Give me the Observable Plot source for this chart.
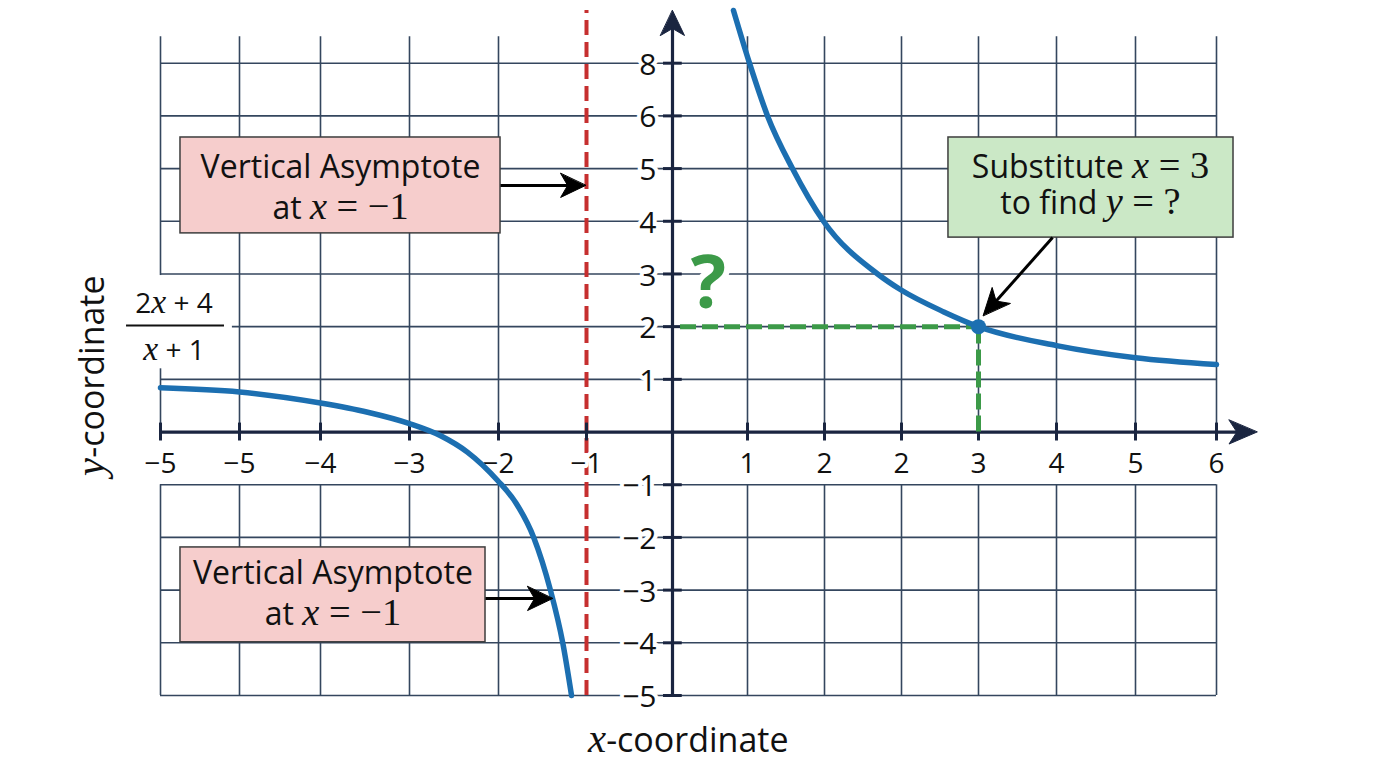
<!DOCTYPE html>
<html>
<head>
<meta charset="utf-8">
<script src="https://cdn.jsdelivr.net/npm/d3@7"></script>
<script src="https://cdn.jsdelivr.net/npm/@observablehq/plot@0.6"></script>
<style>
  body { margin: 0; background: #fff; }
</style>
</head>
<body>
<div id="chart"></div>
<script>
// grid columns (in grid units) and where the drawing puts them: spacing is uneven, so x is piecewise
const xGrid = [-6, -5, -4, -3, -2, -1, 0, 1, 2, 3, 4, 5, 6, 7];
const xPix = [160, 239, 320, 409, 498, 586, 672, 747, 824, 901, 978, 1056, 1135, 1216];
const xTickLabels = ["−5", "−5", "−4", "−3", "−2", "−1", "", "1", "2", "2", "3", "4", "5", "6"];

const yGrid = [-5, -4, -3, -2, -1, 0, 1, 2, 3, 4, 5, 6, 7];
const yTickPos = [7, 6, 5, 4, 3, 2, 1, -1, -2, -3, -4, -5];
const yTickLabels = ["8", "6", "5", "4", "3", "2", "1", "−1", "−2", "−3", "−4", "−5"];

// curve branches (grid units)
const rightX = [0.813, 1.026, 1.26, 1.584, 1.987, 2.69, 2.99, 3.55, 4, 5, 6, 7];
const rightY = [8.0, 7.0, 6.0, 5.0, 4.0, 3.0, 2.7, 2.28, 2.0, 1.64, 1.41, 1.28];
const leftX = [-6, -5, -4, -3.47, -3, -2.65, -2.35, -2.01, -1.8, -1.6, -1.41, -1.27, -1.17];
const leftY = [0.84, 0.76, 0.55, 0.376, 0.16, -0.07, -0.38, -0.92, -1.35, -2.0, -3.0, -4.0, -5.0];

const pointX = [4];
const pointY = [2];
const asymptoteX = [-1];

const noteLines = ["Vertical Asymptote", "at $x = −1$"];
const substituteLines = ["Substitute $x = 3$", "to find $y = ?$"];
const fractionLines = ["2$x$ + 4", "$x$ + 1"];

const curve = [
  ...rightX.map((x, i) => ({branch: "right", x, y: rightY[i]})),
  ...leftX.map((x, i) => ({branch: "left", x, y: leftY[i]}))
];

// piecewise grid -> position, used as the x scale transform
const xs = d3.scaleLinear(xGrid, xPix);
const ys = d3.scaleLinear([-5, 8], [695, 10]);

// shaft + filled head, worked out in pixels and handed back in grid units
function arrowParts(id, from, tip, len, half) {
  const fx = xs(from[0]), fy = ys(from[1]), tx = xs(tip[0]), ty = ys(tip[1]);
  const a = Math.atan2(ty - fy, tx - fx), ux = Math.cos(a), uy = Math.sin(a);
  const pt = (u, v) => ({id, x: xs.invert(tx + ux * u - uy * v), y: ys.invert(ty + uy * u + ux * v)});
  const end = pt(-len * 0.7, 0);
  return {
    shaft: {id, x1: from[0], y1: from[1], x2: end.x, y2: end.y},
    head: [pt(0, 0), pt(-len, half), pt(-len * 0.72, 0), pt(-len, -half)]
  };
}

const pointers = [
  arrowParts("a1", [-1.977, 4.68], [-1.01, 4.68], 25, 12),
  arrowParts("a2", [-2.146, -3.16], [-1.386, -3.16], 25, 12),
  arrowParts("a3", [4.95, 3.69], [4.06, 2.21], 27, 12)
];
const axes = [
  arrowParts("ax", [-6, 0], [7.5, 0], 28, 12),
  arrowParts("ay", [0, -5], [0, 8], 25, 12)
];

const gridColor = "#34465e";
const axisColor = "#1a2540";
const blue = "#1c6fb1";
const green = "#3c9a48";

const chart = Plot.plot({
  width: 1376,
  height: 768,
  x: {transform: xs, domain: [160, 1216], range: [160, 1216], axis: null},
  y: {domain: [-5, 8], range: [695, 10], axis: null},
  style: {fontFamily: "'Open Sans', sans-serif", background: "white", overflow: "visible"},
  marks: [
    // grid
    Plot.ruleY(yGrid, {x1: -6, x2: 7, stroke: gridColor, strokeWidth: 1.6}),
    Plot.ruleX(xGrid.filter(d => d !== 0 && d !== -1), {y1: 0, y2: 7.5, stroke: gridColor, strokeWidth: 1.6}),
    Plot.ruleX(xGrid.filter(d => d !== 0 && d !== -1), {y1: -5, y2: -1, stroke: gridColor, strokeWidth: 1.6}),
    // white patch behind the formula
    Plot.rect([0], {x1: -6.51, x2: -5.09, y1: 1.2, y2: 2.97, fill: "white"}),

    // asymptote
    Plot.ruleX(asymptoteX, {y1: -5, y2: 8, stroke: "#c62f2f", strokeWidth: 4, strokeDasharray: "15,7"}),

    // axes
    Plot.link(axes.map(d => d.shaft), {x1: "x1", y1: "y1", x2: "x2", y2: "y2", stroke: axisColor, strokeWidth: 3.2}),
    Plot.line(axes.flatMap(d => d.head), {x: "x", y: "y", z: "id", fill: axisColor, stroke: axisColor, strokeWidth: 1, curve: "linear-closed"}),
    Plot.ruleX(xGrid.filter(d => d !== 0), {y1: -0.17, y2: 0.17, stroke: axisColor, strokeWidth: 3}),
    Plot.ruleY(yTickPos, {x1: -0.105, x2: 0.13, stroke: axisColor, strokeWidth: 3}),

    // tick labels
    Plot.text(xGrid.map((g, i) => ({g, label: xTickLabels[i]})).filter(d => d.label), {
      x: "g", y: 0, text: "label", dy: 41, lineAnchor: "bottom",
      fontSize: 28, fill: "#111", stroke: "white", strokeWidth: 8, paintOrder: "stroke"
    }),
    Plot.text(yTickPos, {
      x: 0, y: d => d, text: (d, i) => yTickLabels[i], dx: -16, dy: 2, textAnchor: "end",
      fontSize: 30, fill: "#111", stroke: "white", strokeWidth: 8, paintOrder: "stroke"
    }),

    // reading the value at x = 3
    Plot.ruleY(pointY, {x1: 0.107, x2: d => pointX[0], stroke: green, strokeWidth: 5, strokeDasharray: "16,6"}),
    Plot.ruleX(pointX, {y1: 0, y2: d => pointY[0], stroke: green, strokeWidth: 5, strokeDasharray: "16,6"}),
    Plot.text(["?"], {x: 0.48, y: 2.8, fontSize: 74, fontWeight: "bold", fill: green, stroke: "white", strokeWidth: 12, paintOrder: "stroke"}),

    // the function
    Plot.line(curve, {x: "x", y: "y", z: "branch", stroke: blue, strokeWidth: 5.5, curve: "monotone-x"}),
    Plot.dot(pointX.map((x, i) => ({x, y: pointY[i]})), {x: "x", y: "y", r: 7.5, fill: blue}),

    // callouts
    Plot.rect([0], {x1: -5.747, x2: -1.977, y1: 3.77, y2: 5.59, fill: "#f6cdcc", stroke: "#3d3d3d", strokeWidth: 1.5}),
    Plot.rect([0], {x1: -5.747, x2: -2.146, y1: -3.99, y2: -2.19, fill: "#f6cdcc", stroke: "#3d3d3d", strokeWidth: 1.5}),
    Plot.rect([0], {x1: 3.61, x2: 7.21, y1: 3.69, y2: 5.59, fill: "#cbe8c6", stroke: "#3d3d3d", strokeWidth: 1.5}),
    Plot.text(noteLines, {x: -3.775, y: (d, i) => [4.83, 4.05][i], text: d => d, lineAnchor: "bottom", fontSize: 32, fontWeight: 500, fill: "#111"}),
    Plot.text(noteLines, {x: -3.86, y: (d, i) => [-2.875, -3.67][i], text: d => d, lineAnchor: "bottom", fontSize: 32, fontWeight: 500, fill: "#111"}),
    Plot.text(substituteLines, {x: 5.43, y: (d, i) => [4.83, 4.13][i], text: d => d, lineAnchor: "bottom", fontSize: 32, fontWeight: 500, fill: "#111"}),

    Plot.link(pointers.map(d => d.shaft), {x1: "x1", y1: "y1", x2: "x2", y2: "y2", stroke: "black", strokeWidth: 3}),
    Plot.line(pointers.flatMap(d => d.head), {x: "x", y: "y", z: "id", fill: "black", stroke: "black", strokeWidth: 1, curve: "linear-closed"}),

    // formula and axis titles
    Plot.text(fractionLines, {x: -5.83, y: (d, i) => [2.25, 1.376][i], text: d => d, lineAnchor: "bottom", fontSize: 28, fill: "#111"}),
    Plot.ruleY([2.02], {x1: -6.43, x2: -5.19, stroke: "#111", strokeWidth: 2}),
    Plot.text(["$y$-coordinate"], {x: -6.85, y: 1.07, rotate: -90, fontSize: 34, fill: "#111"}),
    Plot.text(["$x$-coordinate"], {x: 0.21, y: -5.87, fontSize: 34, fill: "#111"})
  ]
});

// math parts between $…$ are set in a serif, letters italic
d3.select(chart).selectAll("text").each(function () {
  const s = this.textContent;
  if (!s.includes("$")) return;
  const t = d3.select(this).text(null);
  s.split("$").forEach((part, i) => {
    if (!part) return;
    if (i % 2 === 0) { t.append("tspan").text(part); return; }
    for (const m of part.match(/[A-Za-z]+|[^A-Za-z]+/g)) {
      t.append("tspan")
        .attr("font-family", "'Liberation Serif', serif")
        .attr("font-style", /[A-Za-z]/.test(m) ? "italic" : null)
        .attr("font-size", "1.2em")
        .text(m);
    }
  });
});

d3.select("#chart").append(() => chart);
</script>
</body>
</html>
